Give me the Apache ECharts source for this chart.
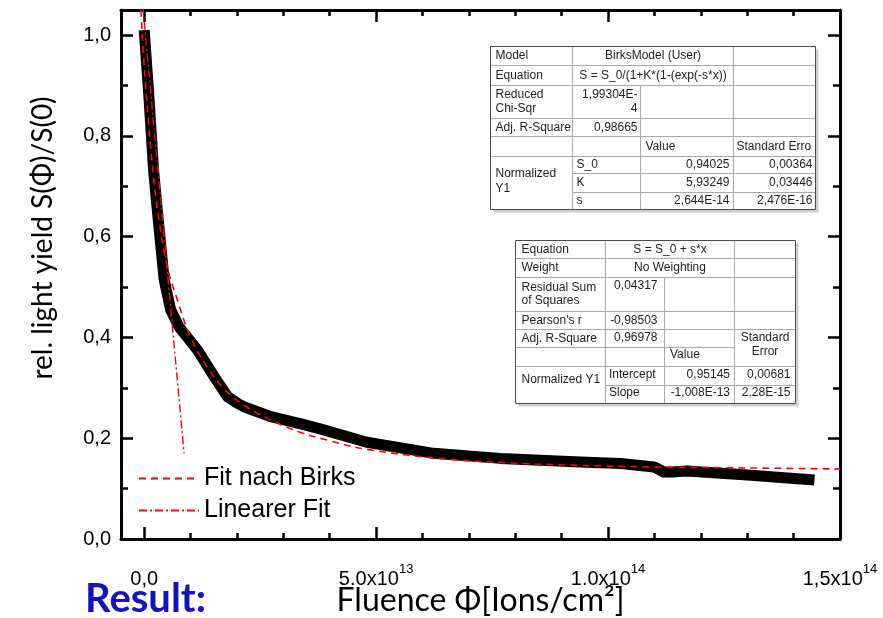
<!DOCTYPE html>
<html>
<head>
<meta charset="utf-8">
<script src="https://cdn.jsdelivr.net/npm/echarts@6/dist/echarts.min.js"></script>
<style>
  html, body { margin: 0; padding: 0; background: #fff; }
  #chart { width: 883px; height: 618px; }
</style>
</head>
<body>
<div id="chart"></div>
<script>
// Measured relative light yield S(Φ)/S(0) versus ion fluence
const fluence = [0, 1.0e12, 2.0e12, 2.7e12, 3.6e12, 4.3e12, 5.7e12, 7.5e12, 1.15e13, 1.51e13,
  1.8e13, 2.0e13, 2.16e13, 2.73e13, 3.36e13, 3.81e13, 4.8e13, 6.24e13, 7.68e13, 9.4e13,
  1.027e14, 1.099e14, 1.12e14, 1.14e14, 1.17e14, 1.30e14, 1.445e14];
const lightYield = [1.01, 0.88, 0.735, 0.665, 0.58, 0.515, 0.455, 0.421, 0.375, 0.322,
  0.282, 0.27, 0.262, 0.243, 0.229, 0.218, 0.192, 0.17, 0.16, 0.153,
  0.150, 0.143, 0.133, 0.133, 0.135, 0.127, 0.117];

// Birks model fit curve
const birksFluence = [-7e11, 0, 1e12, 2e12, 3e12, 5e12, 7.5e12, 1.0e13, 1.37e13, 1.72e13,
  2.16e13, 2.73e13, 3.36e13, 4.0e13, 4.8e13, 6.24e13, 7.68e13, 9.4e13, 1.1e14, 1.3e14, 1.5e14];
const birksYield = [1.05, 0.94, 0.82, 0.72, 0.645, 0.54, 0.465, 0.40, 0.34, 0.298,
  0.265, 0.236, 0.212, 0.195, 0.178, 0.161, 0.152, 0.146, 0.143, 0.141, 0.139];

// Linear fit of the initial drop
const linFluence = [-3e11, 8.6e12];
const linYield = [1.058, 0.17];

// Axis ticks and labels
const xMajorTicks = [0, 5e13, 1e14, 1.5e14];
const xTickMantissa = ['0,0', '5.0x10', '1.0x10', '1,5x10'];
const xTickExponent = ['', '13', '14', '14'];
const xMinorTicks = [1e13, 2e13, 3e13, 4e13, 6e13, 7e13, 8e13, 9e13, 1.1e14, 1.2e14, 1.3e14, 1.4e14];
const yMajorTicks = [0, 0.2, 0.4, 0.6, 0.8, 1.0];
const yTickLabels = ['0,0', '0,2', '0,4', '0,6', '0,8', '1,0'];
const yMinorTicks = [0.1, 0.3, 0.5, 0.7, 0.9];

// Fit result table: Birks model
const birksLabels = ['Model', 'Equation', 'Reduced\nChi-Sqr', 'Adj. R-Square', 'Normalized\nY1'];
const birksSummary = ['BirksModel (User)', 'S = S_0/(1+K*(1-(exp(-s*x))', '1,99304E-\n4', '0,98665'];
const birksHeader = ['Value', 'Standard Erro'];
const birksParams = ['S_0', 'K', 's'];
const birksValues = ['0,94025', '5,93249', '2,644E-14'];
const birksErrors = ['0,00364', '0,03446', '2,476E-16'];

// Fit result table: linear model
const linLabels = ['Equation', 'Weight', 'Residual Sum\nof Squares', "Pearson's r", 'Adj. R-Square', 'Normalized Y1'];
const linSummary = ['S = S_0 + s*x', 'No Weighting', '0,04317', '-0,98503', '0,96978'];
const linHeader = ['Value', 'Standard\nError'];
const linParams = ['Intercept', 'Slope'];
const linValues = ['0,95145', '-1,008E-13'];
const linErrors = ['0,00681', '2,28E-15'];

const pairs = (xs, ys) => xs.map((x, i) => [x, ys[i]]);

// ---- table drawing helpers ----
const TABLE_FONT = '12px "Liberation Sans", Arial, sans-serif';
const GRID_COLOR = '#a8a8a8';
function txt(x, y, s, align, vAlign, lh) {
  return { type: 'text', z: 20, x: x, y: y,
    style: { text: s, fill: '#1e1e1e', font: TABLE_FONT, align: align || 'left',
      verticalAlign: vAlign || 'middle', lineHeight: lh || 13.5 } };
}
function hl(x1, x2, y) {
  return { type: 'line', z: 15, shape: { x1: x1, y1: y, x2: x2, y2: y }, style: { stroke: GRID_COLOR, lineWidth: 1 } };
}
function vl(x, y1, y2) {
  return { type: 'line', z: 15, shape: { x1: x, y1: y1, x2: x, y2: y2 }, style: { stroke: GRID_COLOR, lineWidth: 1 } };
}
function frame(X, Y) {
  const x0 = X[0], x1 = X[X.length - 1], y0 = Y[0], y1 = Y[Y.length - 1];
  return [
    { type: 'rect', z: 12, shape: { x: x0 + 3, y: y0 + 3, width: x1 - x0, height: y1 - y0 }, style: { fill: '#cfcfcf' } },
    { type: 'rect', z: 13, shape: { x: x0, y: y0, width: x1 - x0, height: y1 - y0 }, style: { fill: '#fff' } },
    { type: 'rect', z: 18, shape: { x: x0, y: y0, width: x1 - x0, height: y1 - y0 }, style: { fill: null, stroke: '#4a4a4a', lineWidth: 1 } }
  ];
}

function birksTableElements() {
  const X = [490.5, 572.5, 640.5, 733.5, 815.5];
  const Y = [46.5, 65.5, 85.5, 118.5, 136.5, 156.5, 173.5, 192.5, 209.5];
  const els = frame(X, Y);
  [1, 2, 3, 4, 5].forEach(i => els.push(hl(X[0], X[4], Y[i])));
  [6, 7].forEach(i => els.push(hl(X[1], X[4], Y[i])));
  els.push(vl(X[1], Y[0], Y[8]), vl(X[3], Y[0], Y[8]), vl(X[2], Y[2], Y[8]));
  const lx = X[0] + 5, mid = (a, b) => (Y[a] + Y[b]) / 2;
  els.push(txt(lx, mid(0, 1), birksLabels[0]));
  els.push(txt(lx, mid(1, 2), birksLabels[1]));
  els.push(txt(lx, Y[2] + 2.5, birksLabels[2], 'left', 'top', 14));
  els.push(txt(lx, mid(3, 4), birksLabels[3]));
  els.push(txt(lx, 181.5, birksLabels[4], 'left', 'middle', 15));
  const cx = (X[1] + X[3]) / 2;
  els.push(txt(cx, mid(0, 1), birksSummary[0], 'center'));
  els.push(txt(cx, mid(1, 2), birksSummary[1], 'center'));
  els.push(txt(X[2] - 3, Y[2] + 2.5, birksSummary[2], 'right', 'top', 14));
  els.push(txt(X[2] - 3, mid(3, 4), birksSummary[3], 'right'));
  els.push(txt(X[2] + 5, mid(4, 5) + 0.5, birksHeader[0]));
  els.push(txt(X[3] + 3, mid(4, 5) + 0.5, birksHeader[1]));
  birksParams.forEach((p, i) => {
    const y = mid(5 + i, 6 + i);
    els.push(txt(X[1] + 4, y, p));
    els.push(txt(X[3] - 4, y, birksValues[i], 'right'));
    els.push(txt(X[4] - 3, y, birksErrors[i], 'right'));
  });
  return els;
}

function linTableElements() {
  const X = [515.5, 605.5, 664.5, 734.5, 795.5];
  const Y = [240.5, 258.5, 277.5, 311.5, 329.5, 347.5, 366.5, 385.5, 403.5];
  const els = frame(X, Y);
  [1, 2, 3, 4, 6].forEach(i => els.push(hl(X[0], X[4], Y[i])));
  els.push(hl(X[0], X[3], Y[5]));
  els.push(hl(X[1], X[4], Y[7]));
  els.push(vl(X[1], Y[0], Y[8]), vl(X[3], Y[0], Y[8]), vl(X[2], Y[2], Y[8]));
  const lx = X[0] + 6, mid = (a, b) => (Y[a] + Y[b]) / 2;
  els.push(txt(lx, mid(0, 1), linLabels[0]));
  els.push(txt(lx, mid(1, 2), linLabels[1]));
  els.push(txt(lx, Y[2] + 4, linLabels[2], 'left', 'top', 12.5));
  els.push(txt(lx, mid(3, 4), linLabels[3]));
  els.push(txt(lx, mid(4, 5), linLabels[4]));
  els.push(txt(lx, 380, linLabels[5]));
  const cx = (X[1] + X[3]) / 2;
  els.push(txt(cx, mid(0, 1), linSummary[0], 'center'));
  els.push(txt(cx, mid(1, 2), linSummary[1], 'center'));
  els.push(txt(X[2] - 7, Y[2] + 8, linSummary[2], 'right'));
  els.push(txt(X[2] - 7, mid(3, 4), linSummary[3], 'right'));
  els.push(txt(X[2] - 7, mid(4, 5) - 1, linSummary[4], 'right'));
  els.push(txt(X[2] + 5.5, 355, linHeader[0]));
  els.push(txt((X[3] + X[4]) / 2, 344.5, linHeader[1], 'center', 'middle', 13.5));
  linParams.forEach((p, i) => {
    const y = mid(6 + i, 7 + i) - 1.5;
    els.push(txt(X[1] + 3.5, y, p));
    els.push(txt(X[3] - 4.5, y, linValues[i], 'right'));
    els.push(txt(X[4] - 5, y, linErrors[i], 'right'));
  });
  return els;
}

// ---- axes ----
const AXIS_FONT = '"Liberation Sans", Arial, sans-serif';
const frameLine = { show: true, onZero: false, lineStyle: { color: '#000', width: 3 } };
const noLine = { show: false, onZero: false };
function tickStyle(values, len) {
  return { show: true, inside: true, length: len, customValues: values, lineStyle: { color: '#000', width: 2.5 } };
}
const X_MIN = -5e12, X_MAX = 1.5e14, Y_MIN = 0, Y_MAX = 1.05;

function xAxisDef(position, lineOn, ticks, len, labels) {
  return {
    type: 'value', min: X_MIN, max: X_MAX, position: position,
    axisLine: lineOn ? frameLine : noLine,
    axisTick: tickStyle(ticks, len),
    splitLine: { show: false },
    axisLabel: labels || { show: false }
  };
}
function yAxisDef(position, lineOn, ticks, len, labels) {
  return {
    type: 'value', min: Y_MIN, max: Y_MAX, position: position,
    axisLine: lineOn ? frameLine : noLine,
    axisTick: tickStyle(ticks, len),
    splitLine: { show: false },
    axisLabel: labels || { show: false }
  };
}

const xMain = xAxisDef('bottom', true, xMajorTicks, 12, {
  show: true, customValues: xMajorTicks, margin: 24,
  formatter: function (v) {
    const i = xMajorTicks.indexOf(v);
    if (i < 0) return '';
    return xTickExponent[i] ? '{m|' + xTickMantissa[i] + '}{e|' + xTickExponent[i] + '}' : '{m|' + xTickMantissa[i] + '}';
  },
  rich: {
    m: { fontSize: 20, fontFamily: AXIS_FONT, color: '#000', verticalAlign: 'bottom', lineHeight: 26 },
    e: { fontSize: 13, fontFamily: AXIS_FONT, color: '#000', verticalAlign: 'top', lineHeight: 26 }
  }
});
xMain.name = 'Fluence Φ[Ions/cm²]';
xMain.nameLocation = 'middle';
xMain.nameGap = 46;
xMain.nameMoveOverlap = false;
xMain.nameTextStyle = { fontFamily: 'Lato, "Open Sans", sans-serif', fontSize: 32, color: '#000' };

const yMain = yAxisDef('left', true, yMajorTicks, 12, {
  show: true, customValues: yMajorTicks, margin: 10,
  formatter: function (v) {
    const i = yMajorTicks.findIndex(t => Math.abs(t - v) < 1e-9);
    return i < 0 ? '' : yTickLabels[i];
  },
  fontSize: 20, fontFamily: AXIS_FONT, color: '#000'
});

const option = {
  animation: false,
  backgroundColor: '#fff',
  grid: { left: 121, right: 43, top: 10, bottom: 79, containLabel: false, outerBoundsMode: 'none' },
  xAxis: [
    xMain,
    xAxisDef('bottom', false, xMinorTicks, 6),
    xAxisDef('top', true, xMajorTicks, 12),
    xAxisDef('top', false, xMinorTicks, 6)
  ],
  yAxis: [
    yMain,
    yAxisDef('left', false, yMinorTicks, 7),
    yAxisDef('right', true, yMajorTicks, 12),
    yAxisDef('right', false, yMinorTicks, 7)
  ],
  legend: {
    data: ['Fit nach Birks', 'Linearer Fit'],
    orient: 'vertical', left: 133, top: 461,
    itemWidth: 60, itemHeight: 14, itemGap: 7,
    itemStyle: { opacity: 0 },
    textStyle: { fontFamily: AXIS_FONT, fontSize: 25, color: '#000' },
    backgroundColor: 'transparent'
  },
  series: [
    {
      name: 'Messdaten', type: 'line', data: pairs(fluence, lightYield),
      symbol: 'none', smooth: false, clip: true, z: 2,
      lineStyle: { color: '#000', width: 11, cap: 'butt', join: 'round' }
    },
    {
      name: 'Fit nach Birks', type: 'line', data: pairs(birksFluence, birksYield),
      symbol: 'none', smooth: 0.4, clip: true, z: 3, color: '#ff0000',
      lineStyle: { color: '#ff0000', width: 1.6, type: [7, 5] }
    },
    {
      name: 'Linearer Fit', type: 'line', data: pairs(linFluence, linYield),
      symbol: 'none', clip: true, z: 3, color: '#ff0000',
      lineStyle: { color: '#ff0000', width: 1.4, type: [8, 3, 2, 3] }
    }
  ],
  graphic: {
    elements: [
      {
        type: 'text', x: 43, y: 238, rotation: Math.PI / 2, z: 20,
        style: { text: 'rel. light yield S(Φ)/S(0)', font: '28px Lato, "Open Sans", sans-serif', fill: '#000', align: 'center', verticalAlign: 'middle' }
      },
      {
        type: 'text', x: 85, y: 599, z: 20,
        style: { text: 'Result:', font: 'bold 40px Lato, "Open Sans", sans-serif', fill: '#1212c4', align: 'left', verticalAlign: 'middle' }
      }
    ].concat(birksTableElements(), linTableElements())
  }
};

const chart = echarts.init(document.getElementById('chart'), null, { renderer: 'canvas' });
chart.setOption(option);
</script>
</body>
</html>
